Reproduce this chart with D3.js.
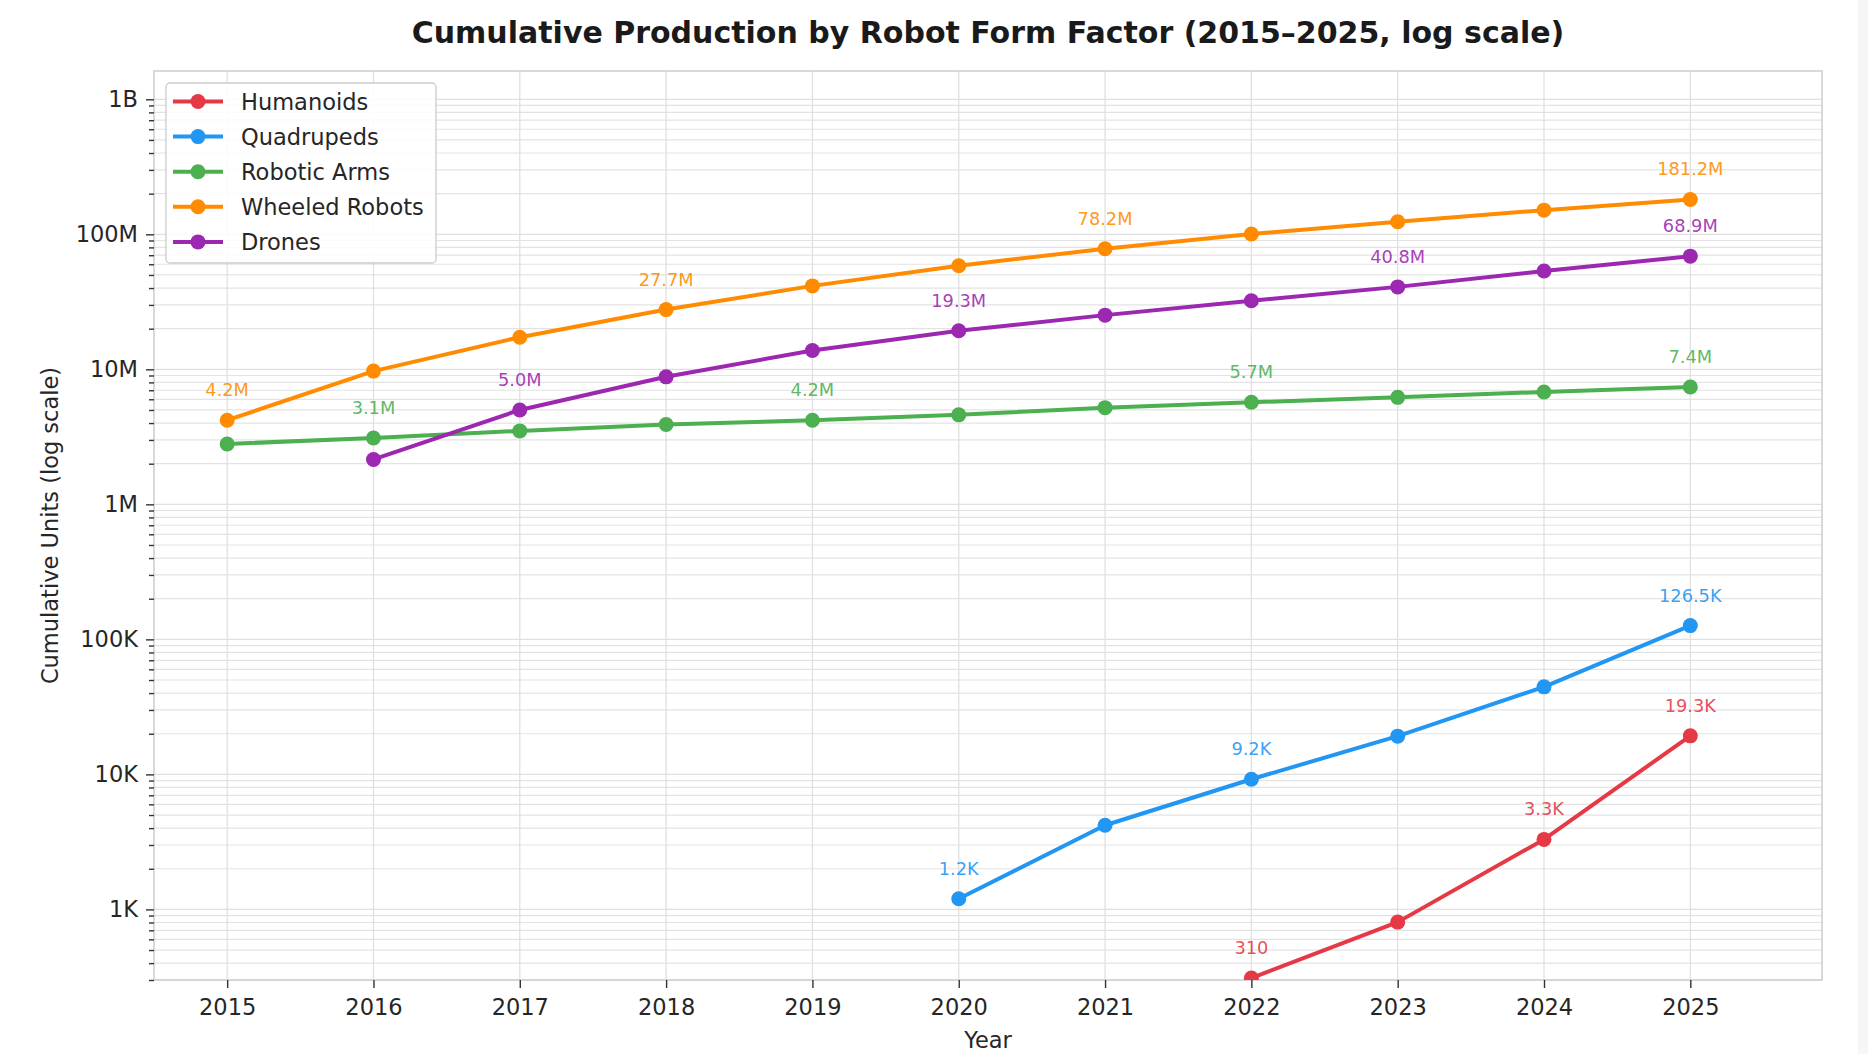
<!DOCTYPE html>
<html>
<head>
<meta charset="utf-8">
<script src="https://cdn.jsdelivr.net/npm/d3@7"></script>
<style>
  body { margin: 0; background: #fff; }
  svg { display: block; font-family: "DejaVu Sans", sans-serif; }
</style>
</head>
<body>
<div id="chart"></div>
<script>
// data
var seriesNames = ["Humanoids", "Quadrupeds", "Robotic Arms", "Wheeled Robots", "Drones"];
var seriesColors = ["#e63946", "#2196f3", "#4caf50", "#ff8c00", "#9c27b0"];

var humanoidYears = [2022, 2023, 2024, 2025];
var humanoidValues = [310, 805, 3300, 19300];

var quadrupedYears = [2020, 2021, 2022, 2023, 2024, 2025];
var quadrupedValues = [1200, 4200, 9200, 19200, 44500, 126500];

var armYears = [2015, 2016, 2017, 2018, 2019, 2020, 2021, 2022, 2023, 2024, 2025];
var armValues = [2800000, 3100000, 3500000, 3900000, 4200000, 4600000, 5200000, 5700000, 6200000, 6800000, 7400000];

var wheeledYears = [2015, 2016, 2017, 2018, 2019, 2020, 2021, 2022, 2023, 2024, 2025];
var wheeledValues = [4200000, 9700000, 17300000, 27700000, 41500000, 58500000, 78200000, 100500000, 124000000, 151000000, 181200000];

var droneYears = [2016, 2017, 2018, 2019, 2020, 2021, 2022, 2023, 2024, 2025];
var droneValues = [2150000, 5000000, 8800000, 13800000, 19300000, 25200000, 32200000, 40800000, 53500000, 68900000];

// which points carry a value label
var labelYears = [
    [2022, 2024, 2025],
    [2020, 2022, 2025],
    [2016, 2019, 2022, 2025],
    [2015, 2018, 2021, 2025],
    [2017, 2020, 2023, 2025]
];

var xTicks = [2015, 2016, 2017, 2018, 2019, 2020, 2021, 2022, 2023, 2024, 2025];
var yTicks = [1e3, 1e4, 1e5, 1e6, 1e7, 1e8, 1e9];
var yTickLabels = ["1K", "10K", "100K", "1M", "10M", "100M", "1B"];

var allYears = [humanoidYears, quadrupedYears, armYears, wheeledYears, droneYears];
var allValues = [humanoidValues, quadrupedValues, armValues, wheeledValues, droneValues];

var W = 1868, H = 1054;
var margin = {top: 71, right: 46, bottom: 74, left: 154};
var width = W - margin.left - margin.right,
    height = H - margin.top - margin.bottom;

var svg = d3.select("#chart")
    .append("svg")
    .attr("width", W)
    .attr("height", H);

// faint strip at the right edge of the screenshot
svg.append("rect")
    .attr("x", 1858).attr("y", 0)
    .attr("width", 10).attr("height", H)
    .attr("fill", "#f6f6f6");

var g = svg.append("g")
    .attr("transform", "translate(" + margin.left + "," + margin.top + ")");

var x = d3.scaleLinear()
    .domain([2014.5, 2025.9])
    .range([0, width]);

var y = d3.scaleLog()
    .domain([300, 1.62e9])
    .range([height, 0]);

// minor ticks 2..9 per decade inside the domain
var minorTicks = [];
for (var e = 2; e <= 9; e++) {
    for (var m = 2; m <= 9; m++) {
        var v = m * Math.pow(10, e);
        if (v >= y.domain()[0] && v <= y.domain()[1]) minorTicks.push(v);
    }
}

// grid
var grid = g.append("g");
grid.selectAll(".hminor")
    .data(minorTicks)
    .enter().append("line")
    .attr("x1", 0).attr("x2", width)
    .attr("y1", function(d) { return y(d); })
    .attr("y2", function(d) { return y(d); })
    .attr("stroke", "#e3e3e3")
    .attr("stroke-width", 1.2);
grid.selectAll(".hmajor")
    .data(yTicks)
    .enter().append("line")
    .attr("x1", 0).attr("x2", width)
    .attr("y1", function(d) { return y(d); })
    .attr("y2", function(d) { return y(d); })
    .attr("stroke", "#e0e0e0")
    .attr("stroke-width", 1.3);
grid.selectAll(".vgrid")
    .data(xTicks)
    .enter().append("line")
    .attr("x1", function(d) { return x(d); })
    .attr("x2", function(d) { return x(d); })
    .attr("y1", 0).attr("y2", height)
    .attr("stroke", "#e0e0e0")
    .attr("stroke-width", 1.3);

// frame
g.append("rect")
    .attr("width", width)
    .attr("height", height)
    .attr("fill", "none")
    .attr("stroke", "#d0d0d0")
    .attr("stroke-width", 1.6);

// axes
var xAxis = g.append("g")
    .attr("transform", "translate(0," + height + ")")
    .call(d3.axisBottom(x).tickValues(xTicks).tickFormat(d3.format("d")).tickSize(8).tickPadding(11));
var yAxis = g.append("g")
    .call(d3.axisLeft(y).tickValues(yTicks)
        .tickFormat(function(d, i) { return yTickLabels[i]; })
        .tickSize(8).tickPadding(8));
g.append("g")
    .call(d3.axisLeft(y).tickValues(minorTicks).tickFormat("").tickSize(5))
    .select(".domain").remove();

[xAxis, yAxis].forEach(function(a) { a.select(".domain").remove(); });
g.selectAll(".tick line").attr("stroke", "#333").attr("stroke-width", 1.4);
g.selectAll(".tick text")
    .attr("fill", "#262626")
    .style("font-size", "22.5px")
    .style("font-family", "DejaVu Sans");

// axis titles
svg.append("text")
    .attr("x", margin.left + width / 2)
    .attr("y", 1048)
    .attr("text-anchor", "middle")
    .attr("fill", "#262626")
    .style("font-size", "22.5px")
    .text("Year");

svg.append("text")
    .attr("transform", "translate(50," + (margin.top + height / 2) + ") rotate(-90)")
    .attr("text-anchor", "middle")
    .attr("dy", "0.35em")
    .attr("fill", "#262626")
    .style("font-size", "22.5px")
    .text("Cumulative Units (log scale)");

svg.append("text")
    .attr("x", margin.left + width / 2)
    .attr("y", 43)
    .attr("text-anchor", "middle")
    .attr("fill", "#1a1a1a")
    .style("font-size", "30px")
    .style("font-weight", "bold")
    .text("Cumulative Production by Robot Form Factor (2015\u20132025, log scale)");

// lines, clipped to the plot area
g.append("clipPath")
    .attr("id", "clip")
    .append("rect")
    .attr("width", width)
    .attr("height", height);

var plot = g.append("g").attr("clip-path", "url(#clip)");

var line = d3.line()
    .x(function(d) { return x(d[0]); })
    .y(function(d) { return y(d[1]); });

function fmt(v) {
    if (v >= 1e6) return (v / 1e6).toFixed(1) + "M";
    if (v >= 1e3) return (v / 1e3).toFixed(1) + "K";
    return String(v);
}

seriesNames.forEach(function(name, s) {
    var pts = allYears[s].map(function(yr, i) { return [yr, allValues[s][i]]; });
    var col = seriesColors[s];

    plot.append("path")
        .datum(pts)
        .attr("d", line)
        .attr("fill", "none")
        .attr("stroke", col)
        .attr("stroke-width", 4)
        .attr("stroke-linejoin", "round");

    plot.selectAll(".pt" + s)
        .data(pts)
        .enter().append("circle")
        .attr("cx", function(d) { return x(d[0]); })
        .attr("cy", function(d) { return y(d[1]); })
        .attr("r", 7.5)
        .attr("fill", col);

    g.selectAll(".lab" + s)
        .data(pts.filter(function(d) { return labelYears[s].indexOf(d[0]) >= 0; }))
        .enter().append("text")
        .attr("x", function(d) { return x(d[0]); })
        .attr("y", function(d) { return y(d[1]) - 24; })
        .attr("text-anchor", "middle")
        .attr("fill", col)
        .attr("fill-opacity", 0.9)
        .style("font-size", "17.8px")
        .text(function(d) { return fmt(d[1]); });
});

// legend
var legend = svg.append("g").attr("transform", "translate(166,83)");
legend.append("rect")
    .attr("width", 270)
    .attr("height", 180)
    .attr("rx", 4)
    .attr("fill", "#fff")
    .attr("fill-opacity", 0.85)
    .attr("stroke", "#cccccc")
    .attr("stroke-width", 1.3);

seriesNames.forEach(function(name, i) {
    var row = legend.append("g").attr("transform", "translate(0," + (18.5 + i * 35.1) + ")");
    row.append("line")
        .attr("x1", 7).attr("x2", 57)
        .attr("stroke", seriesColors[i])
        .attr("stroke-width", 4);
    row.append("circle")
        .attr("cx", 32).attr("r", 7.5)
        .attr("fill", seriesColors[i]);
    row.append("text")
        .attr("x", 75)
        .attr("dy", "0.36em")
        .attr("fill", "#262626")
        .style("font-size", "22.5px")
        .text(name);
});
</script>
</body>
</html>
